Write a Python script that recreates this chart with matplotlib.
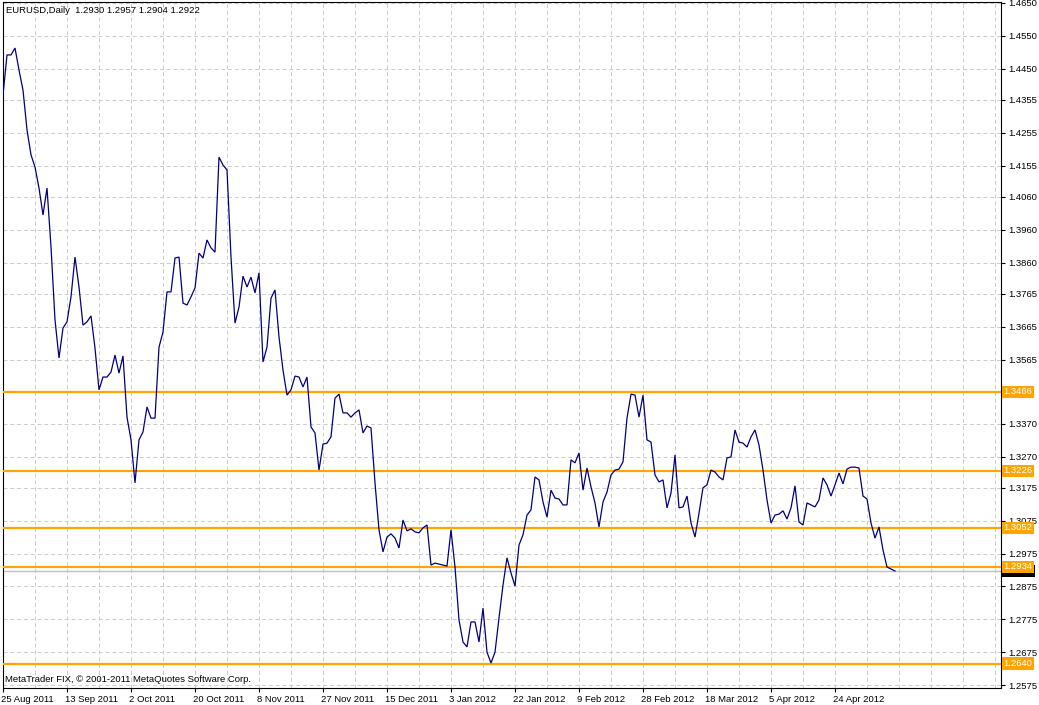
#!/usr/bin/env python3
"""
EURUSD daily close line chart, MetaTrader style.
Closes read off the reference screenshot (one value per bar).
"""

import matplotlib
matplotlib.use('Agg')
import matplotlib.pyplot as plt
import matplotlib.transforms as mtransforms


# Daily closes, 25 Aug 2011 .. 11 May 2012 (6 bars a week, Sunday bars included)
closes = [
    1.4370, 1.4492, 1.4492, 1.4513, 1.4446, 1.4385, 1.4264, 1.4188, 1.4151, 1.4087,
    1.4005, 1.4087, 1.3908, 1.3686, 1.3570, 1.3661, 1.3680, 1.3756, 1.3877, 1.3786,
    1.3670, 1.3680, 1.3698, 1.3600, 1.3473, 1.3512, 1.3512, 1.3527, 1.3579, 1.3524,
    1.3576, 1.3390, 1.3321, 1.3190, 1.3321, 1.3345, 1.3421, 1.3387, 1.3387, 1.3603,
    1.3649, 1.3771, 1.3771, 1.3874, 1.3877, 1.3737, 1.3731, 1.3756, 1.3783, 1.3889,
    1.3874, 1.3929, 1.3905, 1.3892, 1.4181, 1.4157, 1.4142, 1.3877, 1.3676, 1.3725,
    1.3819, 1.3786, 1.3816, 1.3768, 1.3829, 1.3558, 1.3603, 1.3752, 1.3777, 1.3634,
    1.3533, 1.3457, 1.3473, 1.3515, 1.3512, 1.3482, 1.3512, 1.3360, 1.3342, 1.3229,
    1.3308, 1.3311, 1.3330, 1.3448, 1.3460, 1.3403, 1.3403, 1.3390, 1.3403, 1.3412,
    1.3342, 1.3363, 1.3357, 1.3190, 1.3047, 1.2980, 1.3025, 1.3035, 1.3022, 1.2992,
    1.3077, 1.3044, 1.3050, 1.3041, 1.3038, 1.3053, 1.3062, 1.2940, 1.2946, 1.2943,
    1.2940, 1.2937, 1.3047, 1.2934, 1.2773, 1.2706, 1.2691, 1.2767, 1.2767, 1.2706,
    1.2809, 1.2675, 1.2642, 1.2675, 1.2779, 1.2879, 1.2962, 1.2916, 1.2876, 1.3001,
    1.3032, 1.3092, 1.3108, 1.3208, 1.3199, 1.3132, 1.3086, 1.3168, 1.3144, 1.3141,
    1.3123, 1.3123, 1.3260, 1.3251, 1.3281, 1.3168, 1.3235, 1.3178, 1.3129, 1.3056,
    1.3132, 1.3162, 1.3214, 1.3229, 1.3232, 1.3254, 1.3387, 1.3460, 1.3457, 1.3390,
    1.3457, 1.3321, 1.3314, 1.3214, 1.3193, 1.3199, 1.3114, 1.3159, 1.3275, 1.3114,
    1.3117, 1.3150, 1.3068, 1.3025, 1.3098, 1.3175, 1.3184, 1.3229, 1.3223, 1.3208,
    1.3199, 1.3266, 1.3269, 1.3351, 1.3314, 1.3311, 1.3299, 1.3330, 1.3351, 1.3305,
    1.3229, 1.3138, 1.3068, 1.3092, 1.3095, 1.3105, 1.3080, 1.3114, 1.3181, 1.3071,
    1.3062, 1.3129, 1.3123, 1.3117, 1.3138, 1.3205, 1.3184, 1.3150, 1.3184, 1.3220,
    1.3187, 1.3232, 1.3238, 1.3238, 1.3235, 1.3150, 1.3141, 1.3068, 1.3022, 1.3056,
    1.2986, 1.2934, 1.2928, 1.2922,
]

date_labels = ['25 Aug 2011', '13 Sep 2011', '2 Oct 2011', '20 Oct 2011', '8 Nov 2011',
               '27 Nov 2011', '15 Dec 2011', '3 Jan 2012', '22 Jan 2012', '9 Feb 2012',
               '28 Feb 2012', '18 Mar 2012', '5 Apr 2012', '24 Apr 2012']

price_ticks = [1.4650, 1.4550, 1.4450, 1.4355, 1.4255, 1.4155, 1.4060, 1.3960, 1.3860,
               1.3765, 1.3665, 1.3565, 1.3470, 1.3370, 1.3270, 1.3175, 1.3075, 1.2975,
               1.2875, 1.2775, 1.2675, 1.2575]

levels = [1.3466, 1.3226, 1.3052, 1.2934, 1.2640]

header = 'EURUSD,Daily  1.2930 1.2957 1.2904 1.2922'
footer = 'MetaTrader FIX, \u00a9 2001-2011 MetaQuotes Software Corp.'
last_price = 1.2922

FONT = ['Liberation Sans', 'DejaVu Sans']
FS = 6.8
GRID = '#CBCBCB'
ORANGE = '#FFA500'


def main():
    plt.rcParams['font.family'] = FONT
    W, H = 1039, 705
    fig = plt.figure(figsize=(W / 100, H / 100), dpi=100)
    fig.patch.set_facecolor('white')

    # plot area in pixels: x 3..1001, y 2..688
    ax = fig.add_axes([3 / W, (H - 688) / H, 998 / W, 686 / H])
    ax.set_facecolor('white')

    n = len(closes)
    bars = list(range(n))
    ax.set_xlim(0, 249.5)
    ax.set_ylim(1.2566, 1.4653)

    # dashed grid: vertical every 8 bars, horizontal at price ticks
    for b in range(8, 250, 8):
        ax.axvline(b, color=GRID, lw=0.7, ls=(0, (4, 3)), zorder=1)
    for p in price_ticks:
        ax.axhline(p, color=GRID, lw=0.7, ls=(0, (4, 3)), zorder=1)

    # bid line
    ax.axhline(last_price, color='#C0C0C0', lw=1.0, zorder=2)

    # horizontal levels
    for lv in levels:
        ax.axhline(lv, color=ORANGE, lw=1.6, zorder=3)

    ax.plot(bars, closes, color='#000080', lw=0.9, zorder=4, solid_joinstyle='miter')

    # axes frame
    for s in ax.spines.values():
        s.set_color('black')
        s.set_linewidth(0.8)

    # right price scale
    ax.yaxis.tick_right()
    ax.set_yticks(price_ticks)
    ax.set_yticklabels(['' if abs(p - 1.3470) < 1e-6 else f'{p:.4f}' for p in price_ticks])
    ax.tick_params(axis='y', direction='out', length=3, width=0.8, pad=2,
                   labelsize=FS, colors='black')

    # date scale
    ax.set_xticks(list(range(0, 16 * len(date_labels), 16)))
    ax.set_xticklabels(date_labels, ha='left')
    ax.tick_params(axis='x', direction='out', length=3, width=0.8, pad=2,
                   labelsize=FS, colors='black')
    for lbl in ax.get_xticklabels():
        lbl.set_x(lbl.get_position()[0])
    offset = mtransforms.ScaledTranslation(-2 / 100, 0, fig.dpi_scale_trans)
    for lbl in ax.get_xticklabels():
        lbl.set_transform(lbl.get_transform() + offset)

    # price tags on the right
    trans = mtransforms.blended_transform_factory(ax.transAxes, ax.transData)
    ax.text(1.0025, last_price, f'{last_price:.4f}', transform=trans, fontsize=FS,
            color='white', va='center', ha='left', clip_on=False, zorder=5,
            bbox=dict(boxstyle='square,pad=0.18', fc='black', ec='none'))
    for lv in levels:
        ax.text(1.0025, lv + 0.0001, f'{lv:.4f}', transform=trans, fontsize=FS,
                color='white', va='center', ha='left', clip_on=False, zorder=6,
                bbox=dict(boxstyle='square,pad=0.18', fc=ORANGE, ec='none'))

    # chart header and copyright line
    ax.text(3 / 998, 1 - 8.5 / 686, header, transform=ax.transAxes, fontsize=FS,
            va='center', ha='left', color='black')
    ax.text(2 / 998, 8.5 / 686, footer, transform=ax.transAxes, fontsize=FS,
            va='center', ha='left', color='black')

    fig.savefig('out.png', dpi=100)
    plt.close(fig)


if __name__ == '__main__':
    main()
